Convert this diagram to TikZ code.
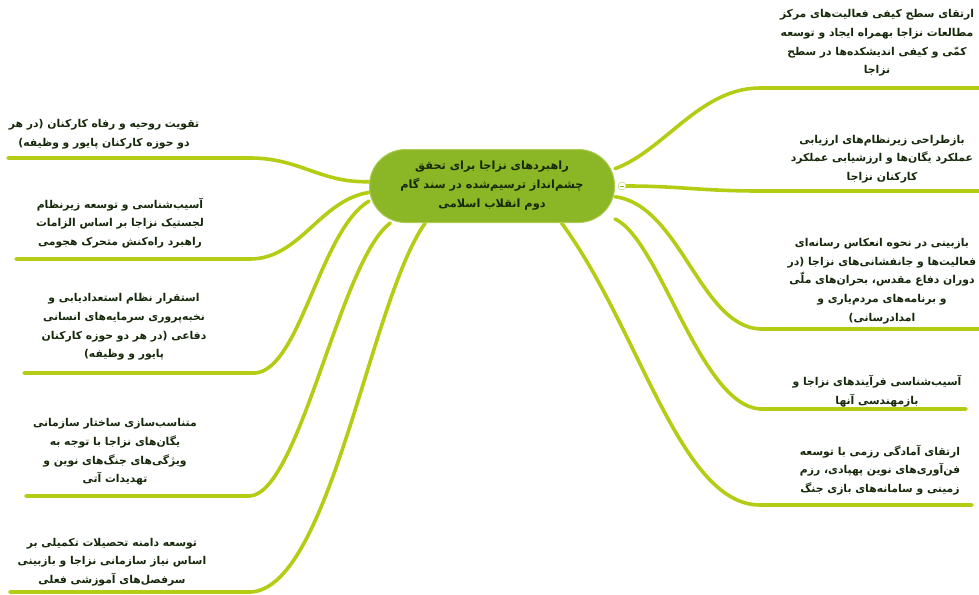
\documentclass[tikz,border=0pt]{standalone}
\usepackage{fontspec}
\usepackage{tikz}
\usetikzlibrary{backgrounds}
\newfontfamily\farsi[Script=Arabic]{DejaVu Sans}
\TeXXeTstate=1
\newcommand{\rline}[1]{\beginR#1\endR}
\definecolor{branchc}{RGB}{180,204,20}
\definecolor{rootc}{RGB}{139,182,37}
\definecolor{rootb}{RGB}{172,204,84}
\definecolor{inkc}{RGB}{22,40,10}

\begin{document}
\begin{tikzpicture}
            [x=1pt,y=-1pt,
             leaf/.style={align=center,inner sep=0,text=inkc,font=\farsi\bfseries\fontsize{10.8}{18.7}\selectfont},
             rootnode/.style={rounded corners=36pt,fill=rootc,draw=rootb,line width=1pt,minimum width=245pt,minimum height=73pt,align=center,text=inkc,font=\farsi\bfseries\fontsize{11.3}{19}\selectfont},
             branch/.style={draw=branchc,line width=3.6pt,line cap=round},
             fold/.style={circle,draw=rootb,fill=white,inner sep=0,minimum size=8pt,
               path picture={\draw[rootc,line width=1pt] ([xshift=2pt]path picture bounding box.west) -- ([xshift=-2pt]path picture bounding box.east);}}]
            \useasboundingbox (0,0) rectangle (979,594);
            \node[rootnode] (root) at (492,186) {\rline{راهبردهای نزاجا برای تحقق}\\\rline{چشم‌انداز ترسیم‌شده در سند گام}\\\rline{دوم انقلاب اسلامی}};
            \node[fold] (fold) at (622,186) {};
            % right side
            \node[leaf] (r1) at (877,43) {\rline{ارتقای سطح کیفی فعالیت‌های مرکز}\\\rline{مطالعات نزاجا بهمراه ایجاد و توسعه}\\\rline{کمّی و کیفی اندیشکده‌ها در سطح}\\\rline{نزاجا}};
            \node[leaf] (r2) at (882,159) {\rline{بازطراحی زیرنظام‌های ارزیابی}\\\rline{عملکرد یگان‌ها و ارزشیابی عملکرد}\\\rline{کارکنان نزاجا}};
            \node[leaf] (r3) at (882,281) {\rline{بازبینی در نحوه انعکاس رسانه‌ای}\\\rline{فعالیت‌ها و جانفشانی‌های نزاجا (در}\\\rline{دوران دفاع مقدس، بحران‌های ملّی}\\\rline{و برنامه‌های مردم‌یاری و}\\\rline{امدادرسانی)}};
            \node[leaf] (r4) at (877,391) {\rline{آسیب‌شناسی فرآیندهای نزاجا و}\\\rline{بازمهندسی آنها}};
            \node[leaf] (r5) at (880,470) {\rline{ارتقای آمادگی رزمی با توسعه}\\\rline{فن‌آوری‌های نوین پهپادی، رزم}\\\rline{زمینی و سامانه‌های بازی جنگ}};
            % left side
            \node[leaf] (l1) at (104,134) {\rline{تقویت روحیه و رفاه کارکنان (در هر}\\\rline{دو حوزه کارکنان پایور و وظیفه)}};
            \node[leaf] (l2) at (120,223) {\rline{آسیب‌شناسی و توسعه زیرنظام}\\\rline{لجستیک نزاجا بر اساس الزامات}\\\rline{راهبرد راه‌کنش متحرک هجومی}};
            \node[leaf] (l3) at (124,327) {\rline{استقرار نظام استعدادیابی و}\\\rline{نخبه‌پروری سرمایه‌های انسانی}\\\rline{دفاعی (در هر دو حوزه کارکنان}\\\rline{پایور و وظیفه)}};
            \node[leaf] (l4) at (115,452) {\rline{متناسب‌سازی ساختار سازمانی}\\\rline{یگان‌های نزاجا با توجه به}\\\rline{ویژگی‌های جنگ‌های نوین و}\\\rline{تهدیدات آتی}};
            \node[leaf] (l5) at (112,562) {\rline{توسعه دامنه تحصیلات تکمیلی بر}\\\rline{اساس نیاز سازمانی نزاجا و بازبینی}\\\rline{سرفصل‌های آموزشی فعلی}};
            % underline ends
            \coordinate (r1a) at (760,88);  \coordinate (r1b) at (979,88);
            \coordinate (r2a) at (760,191); \coordinate (r2b) at (979,191);
            \coordinate (r3a) at (760,329); \coordinate (r3b) at (979,329);
            \coordinate (r4a) at (760,409); \coordinate (r4b) at (966,409);
            \coordinate (r5a) at (760,505); \coordinate (r5b) at (972,505);
            \coordinate (l1a) at (250,158); \coordinate (l1b) at (8,158);
            \coordinate (l2a) at (250,259); \coordinate (l2b) at (16,259);
            \coordinate (l3a) at (255,373); \coordinate (l3b) at (24,373);
            \coordinate (l4a) at (250,496); \coordinate (l4b) at (26,496);
            \coordinate (l5a) at (250,592); \coordinate (l5b) at (10,592);
            \begin{pgfonlayer}{background}
            % the branches
            \draw[branch] (root.8) .. controls (665,150) and (700,88) .. (r1a) -- (r1b);
            \draw[branch] (fold) .. controls (680,186) and (700,191) .. (r2a) -- (r2b);
            \draw[branch] (root.-5) .. controls (680,205) and (700,326) .. (r3a) -- (r3b);
            \draw[branch] (root.-15) .. controls (660,240) and (700,405) .. (r4a) -- (r4b);
            \draw[branch] (root.-28) .. controls (640,330) and (680,505) .. (r5a) -- (r5b);
            \draw[branch] (root.178) .. controls (320,183) and (300,158) .. (l1a) -- (l1b);
            \draw[branch] (root.183) .. controls (320,200) and (300,259) .. (l2a) -- (l2b);
            \draw[branch] (root.187) .. controls (320,230) and (300,370) .. (l3a) -- (l3b);
            \draw[branch] (root.200) .. controls (340,260) and (300,492) .. (l4a) -- (l4b);
            \draw[branch] (root.209) .. controls (370,300) and (330,590) .. (l5a) -- (l5b);
            \end{pgfonlayer}
        \end{tikzpicture}
\end{document}
